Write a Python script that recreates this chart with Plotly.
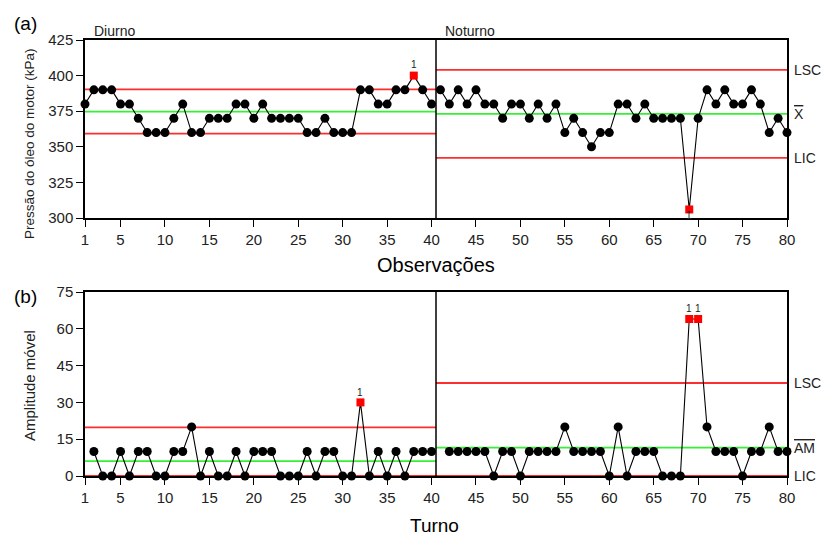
import plotly.graph_objects as go

# ---------------- data ----------------
observacoes = list(range(1, 81))
pressao = [380, 390, 390, 390, 380, 380, 370, 360, 360, 360,
           370, 380, 360, 360, 370, 370, 370, 380, 380, 370,
           380, 370, 370, 370, 370, 360, 360, 370, 360, 360,
           360, 390, 390, 380, 380, 390, 390, 400, 390, 380,
           390, 380, 390, 380, 390, 380, 380, 370, 380, 380,
           370, 380, 370, 380, 360, 370, 360, 350, 360, 360,
           380, 380, 370, 380, 370, 370, 370, 370, 306, 370,
           390, 380, 390, 380, 380, 390, 380, 360, 370, 360]
amplitude = [None, 10, 0, 0, 10, 0, 10, 10, 0, 0,
             10, 10, 20, 0, 10, 0, 0, 10, 0, 10,
             10, 10, 0, 0, 0, 10, 0, 10, 10, 0,
             0, 30, 0, 10, 0, 10, 0, 10, 10, 10,
             None, 10, 10, 10, 10, 10, 0, 10, 10, 0,
             10, 10, 10, 10, 20, 10, 10, 10, 10, 0,
             20, 0, 10, 10, 10, 0, 0, 0, 64, 64,
             20, 10, 10, 10, 0, 10, 10, 20, 10, 10]

etapas = ["Diurno", "Noturno"]
etapa_inicio = [1, 41]
etapa_fim = [40, 80]
etapa_limites = [1, 40.5, 80]

lsc_x = [390.3, 404.0]
media_x = [374.75, 373.1]
lic_x = [359.2, 342.2]
lsc_am = [19.8, 37.9]
media_am = [6.1, 11.6]
lic_am = [0, 0]

fora_x = [38, 69]
fora_am = [32, 69, 70]

x_ticks = [1, 5, 10, 15, 20, 25, 30, 35, 40, 45, 50, 55, 60, 65, 70, 75, 80]
y1_ticks = [300, 325, 350, 375, 400, 425]
y2_ticks = [0, 15, 30, 45, 60, 75]

# ---------------- style ----------------
FONT = "Liberation Sans, Arial, Helvetica, sans-serif"
RED = "#FF2E2E"
GREEN = "#35F035"
W, H = 823, 538
L, R, T, B = 85, 36, 40, 62
PW, PH = W - L - R, H - T - B


def px(x):
    return (x - L) / PW


def py(y):
    return 1 - (y - T) / PH


fig = go.Figure()


def add_limits(xa, ya, lsc, med, lic):
    for i in range(len(etapas)):
        xs = [etapa_limites[i], etapa_limites[i + 1]]
        for val, col in ((lsc[i], RED), (lic[i], RED), (med[i], GREEN)):
            fig.add_trace(go.Scatter(x=xs, y=[val, val], mode="lines",
                                     line=dict(color=col, width=1.8),
                                     xaxis=xa, yaxis=ya, hoverinfo="skip",
                                     showlegend=False, cliponaxis=False))


def add_series(xa, ya, values, flags):
    for i in range(len(etapas)):
        xs, ys, sym, col, size = [], [], [], [], []
        for o in range(etapa_inicio[i], etapa_fim[i] + 1):
            v = values[o - 1]
            if v is None:
                continue
            xs.append(o)
            ys.append(v)
            bad = o in flags
            sym.append("square" if bad else "circle")
            col.append("#FF0000" if bad else "#000000")
            size.append(8 if bad else 9)
        fig.add_trace(go.Scatter(x=xs, y=ys, mode="lines+markers",
                                 line=dict(color="black", width=1.1),
                                 marker=dict(symbol=sym, color=col, size=size,
                                             opacity=1, line=dict(width=0)),
                                 xaxis=xa, yaxis=ya, showlegend=False,
                                 cliponaxis=False))


add_limits("x", "y", lsc_x, media_x, lic_x)
add_limits("x2", "y2", lsc_am, media_am, lic_am)
add_series("x", "y", pressao, fora_x)
add_series("x2", "y2", amplitude, fora_am)

# stage dividers
for xr, yr in (("x", "y"), ("x2", "y2")):
    fig.add_shape(type="line", xref=xr, yref=yr + " domain",
                  x0=etapa_limites[1], x1=etapa_limites[1], y0=0, y1=1,
                  line=dict(color="black", width=1.5))

ann = []
# out-of-control flags
for o in fora_x:
    v = pressao[o - 1]
    above = v > media_x[1 if o > 40 else 0]
    ann.append(dict(x=o, y=v, xref="x", yref="y", text="1", showarrow=False,
                    xanchor="center", yanchor="middle",
                    yshift=11 if above else -6, font=dict(size=10, color="#222")))
for o in fora_am:
    ann.append(dict(x=o, y=amplitude[o - 1], xref="x2", yref="y2", text="1",
                    showarrow=False, xanchor="center", yanchor="middle",
                    yshift=10, font=dict(size=10, color="#222")))

# right-hand limit labels
right_labels = [("LSC", lsc_x[1], "y"),
                ("<span style='text-decoration:overline'>X</span>", media_x[1], "y"),
                ("LIC", lic_x[1], "y"),
                ("LSC", lsc_am[1], "y2"),
                ("<span style='text-decoration:overline'>AM</span>", media_am[1], "y2"),
                ("LIC", lic_am[1], "y2")]
for txt, val, yr in right_labels:
    ann.append(dict(x=1, y=val, xref="paper", yref=yr, text=txt, showarrow=False,
                    xanchor="left", yanchor="middle", xshift=5,
                    font=dict(size=14, color="#222")))

# stage names
ann.append(dict(x=px(92), y=py(41), xref="paper", yref="paper", text=etapas[0],
                showarrow=False, xanchor="left", yanchor="bottom",
                font=dict(size=14, color="#222")))
ann.append(dict(x=px(443), y=py(41), xref="paper", yref="paper", text=etapas[1],
                showarrow=False, xanchor="left", yanchor="bottom",
                font=dict(size=14, color="#222")))

# panel letters and titles
ann += [
    dict(x=px(25), y=py(23), text="(a)", font=dict(size=19, color="black")),
    dict(x=px(25), y=py(296), text="(b)", font=dict(size=19, color="black")),
    dict(x=px(436), y=py(265), text="Observações", font=dict(size=20, color="black")),
    dict(x=px(434), y=py(525), text="Turno", font=dict(size=19, color="black")),
    dict(x=px(29), y=py(144), text="Pressão do óleo do motor (kPa)", textangle=-90,
         font=dict(size=13.5, color="#222")),
    dict(x=px(29), y=py(386), text="Amplitude móvel", textangle=-90,
         font=dict(size=15, color="#222")),
]
for a in ann[-6:]:
    a.update(xref="paper", yref="paper", showarrow=False,
             xanchor="center", yanchor="middle")

axis_common = dict(showline=True, linecolor="black", linewidth=1.5, mirror=True,
                   showgrid=False, zeroline=False, ticks="outside", ticklen=7,
                   tickwidth=1.3, tickcolor="black",
                   tickfont=dict(size=15, color="#222", family=FONT))

fig.update_layout(
    width=W, height=H, autosize=False,
    margin=dict(l=L, r=R, t=T, b=B),
    paper_bgcolor="white", plot_bgcolor="white",
    font=dict(family=FONT, color="#222"),
    showlegend=False,
    annotations=ann,
    xaxis=dict(axis_common, domain=[0, 1], range=[1, 80], tickvals=x_ticks,
               anchor="y"),
    yaxis=dict(axis_common, domain=[py(218), 1], range=[300, 425],
               tickvals=y1_ticks, anchor="x"),
    xaxis2=dict(axis_common, domain=[0, 1], range=[1, 80], tickvals=x_ticks,
                anchor="y2"),
    yaxis2=dict(axis_common, domain=[0, py(292)], range=[0, 75],
                tickvals=y2_ticks, anchor="x2"),
)

fig.write_html("out.html",
               config={"displayModeBar": False},
               post_script="document.body.style.margin='0';"
                           "document.body.style.overflow='hidden';")
